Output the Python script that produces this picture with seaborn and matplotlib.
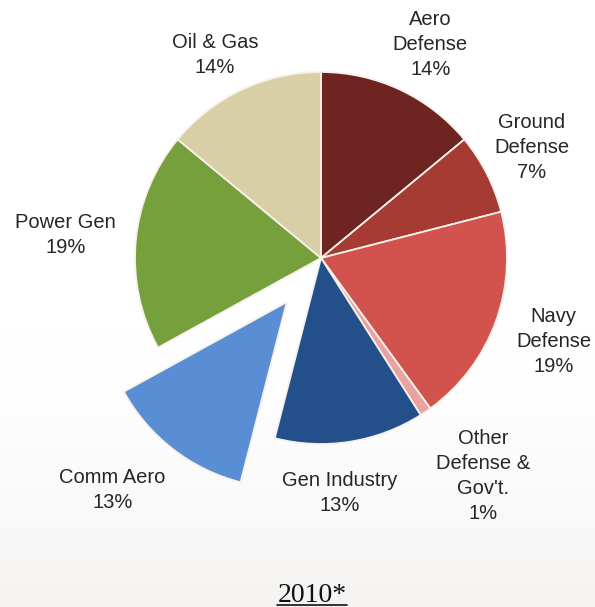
import numpy as np
import matplotlib
matplotlib.use("Agg")
import matplotlib.pyplot as plt
import seaborn as sns

# Revenue mix by market, 2010
segments = ["Aero\nDefense", "Ground\nDefense", "Navy\nDefense", "Other\nDefense &\nGov't.",
            "Gen Industry", "Comm Aero", "Power Gen", "Oil & Gas"]
shares = [14, 7, 19, 1, 13, 13, 19, 14]
colors = ["#6e2522", "#a63b34", "#d2534e", "#e9a2a0",
          "#234f8a", "#5a8ed4", "#76a03c", "#d9cfa6"]
explode = [0, 0, 0, 0, 0, 0.3, 0, 0]
title = "2010*"

# label placement: distance from wedge centre (in radii) and turn from mid-angle (deg)
label_dist = [1.29, 1.28, 1.33, 1.46, 1.27, 1.38, 1.38, 1.23]
label_turn = [-1.9, 0.7, 0.0, 2.5, -4.4, -5.0, 0.3, 2.4]

sns.set_theme(style="white")
plt.rcParams["font.family"] = ["Liberation Sans", "DejaVu Sans"]

W, H = 595, 607
fig = plt.figure(figsize=(W / 100, H / 100), dpi=100)
ax = fig.add_axes([0, 0, 1, 1])
ax.set_xlim(0, W)
ax.set_ylim(0, H)
ax.set_aspect("equal")
ax.axis("off")

# soft grey haze towards the bottom of the page
grad = np.linspace(0, 1, 256)[:, None]
grad = np.clip((grad - 0.55) / 0.45, 0, 1) ** 1.5
bg = np.ones((256, 1, 3)) - grad[..., None] * np.array([0.04, 0.045, 0.05])
ax.imshow(bg[::-1], extent=[0, W, 0, H], aspect="auto", zorder=0, origin="lower")

cx, cy, R = 321, 349, 186
# pie explode offsets are in data units, so scale by the radius
wedges, _ = ax.pie(shares, colors=colors, explode=[e * R for e in explode],
                   startangle=90, counterclock=False, center=(cx, cy), radius=R,
                   wedgeprops=dict(edgecolor="#f6f1ea", linewidth=1.3),
                   frame=True)
for w in wedges:
    w.set_zorder(2)

for w, lab, pct, d, turn in zip(wedges, segments, shares, label_dist, label_turn):
    ang = np.deg2rad((w.theta1 + w.theta2) / 2 + turn)
    wx, wy = w.center
    x = wx + d * R * np.cos(ang)
    y = wy + d * R * np.sin(ang)
    ax.text(x, y, f"{lab}\n{pct}%", ha="center", va="center", fontsize=14.5,
            color="#262626", linespacing=1.4, zorder=3)

ax.set_xlim(0, W)
ax.set_ylim(0, H)
ax.axis("off")

t = ax.text(312, 5, title, ha="center", va="baseline", fontsize=20,
            family=["Liberation Serif", "DejaVu Serif"], color="#111111", zorder=3)
fig.canvas.draw()
bb = t.get_window_extent(renderer=fig.canvas.get_renderer())
ax.plot([bb.x0, bb.x1], [2.5, 2.5], color="#111111", lw=1.2, zorder=3)

fig.savefig("out.png", dpi=100)
